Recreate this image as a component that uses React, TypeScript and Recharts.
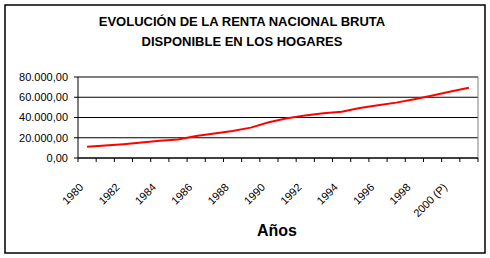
import { LineChart, Line, XAxis, YAxis, CartesianGrid, ReferenceLine } from "recharts";

// Renta nacional bruta disponible de los hogares, 1980-2001
const years = [
  "1980", "1981", "1982", "1983", "1984", "1985", "1986", "1987", "1988", "1989", "1990",
  "1991", "1992", "1993", "1994", "1995", "1996", "1997", "1998", "1999", "2000 (P)", "2001 (P)",
];
const renta = [
  11000, 12300, 13700, 15300, 17000, 18300, 21700, 24300, 26700, 30000, 35300,
  39300, 42000, 44300, 45700, 49300, 52000, 54700, 58000, 61700, 65700, 69300,
];
const yTicks = [0, 20000, 40000, 60000, 80000];

const W = 490;
const H = 258;
const margin = { top: 77, right: 12, bottom: 0, left: 0 };
const yAxisWidth = 78;
const xAxisHeight = 100;
const plotWidth = W - margin.left - margin.right - yAxisWidth;
const halfStep = plotWidth / years.length / 2;

const font = '"Liberation Sans", Arial, sans-serif';

const data = years.map((year, i) => ({ x: i + 0.5, year, renta: renta[i] }));
const xTicks = Array.from({ length: years.length + 1 }, (_, i) => i);

function fmtEs(v: number) {
  const int = Math.round(v)
    .toString()
    .replace(/\B(?=(\d{3})+(?!\d))/g, ".");
  return `${int},00`;
}

function XTick(props: any) {
  const { x, y, payload } = props;
  const i = payload.value as number;
  if (i % 2 !== 0 || i >= years.length) return null;
  return (
    <text
      transform={`translate(${x + halfStep - 3}, ${y + 24}) rotate(-45)`}
      textAnchor="end"
      fontSize={11}
      fontFamily={font}
      fill="#000"
    >
      {years[i]}
    </text>
  );
}

export default function App() {
  return (
    <div style={{ position: "absolute", left: 0, top: 0, width: W, height: H, background: "#fff" }}>
      <LineChart width={W} height={H} data={data} margin={margin}>
        <CartesianGrid horizontal vertical={false} stroke="#000" strokeWidth={1} />
        <XAxis
          type="number"
          dataKey="x"
          domain={[0, years.length]}
          ticks={xTicks}
          interval={0}
          height={xAxisHeight}
          tick={<XTick />}
          tickSize={4}
          tickLine={{ stroke: "#000" }}
          axisLine={{ stroke: "#000" }}
        />
        <YAxis
          domain={[0, 80000]}
          ticks={yTicks}
          interval={0}
          width={yAxisWidth}
          tickFormatter={fmtEs}
          tickSize={4}
          tickMargin={6}
          tick={{ fontSize: 11, fontFamily: font, fill: "#000" }}
          tickLine={{ stroke: "#000" }}
          axisLine={{ stroke: "#000" }}
        />
        <ReferenceLine y={80000} stroke="#808080" strokeWidth={1} />
        <ReferenceLine x={years.length} stroke="#808080" strokeWidth={1} />
        <Line
          type="linear"
          dataKey="renta"
          stroke="#ff0000"
          strokeWidth={2}
          dot={false}
          isAnimationActive={false}
        />
      </LineChart>
      <svg
        width={W}
        height={H}
        style={{ position: "absolute", left: 0, top: 0, pointerEvents: "none" }}
      >
        <rect x={5} y={5} width={480} height={248} fill="none" stroke="#000" strokeWidth={1.5} />
        <text x={242} y={26} textAnchor="middle" fontSize={13} fontWeight="bold" fontFamily={font}>
          EVOLUCIÓN DE LA RENTA NACIONAL BRUTA
        </text>
        <text x={242} y={46} textAnchor="middle" fontSize={13} fontWeight="bold" fontFamily={font}>
          DISPONIBLE EN LOS HOGARES
        </text>
        <text x={277} y={236} textAnchor="middle" fontSize={16} fontWeight="bold" fontFamily={font}>
          Años
        </text>
      </svg>
    </div>
  );
}
